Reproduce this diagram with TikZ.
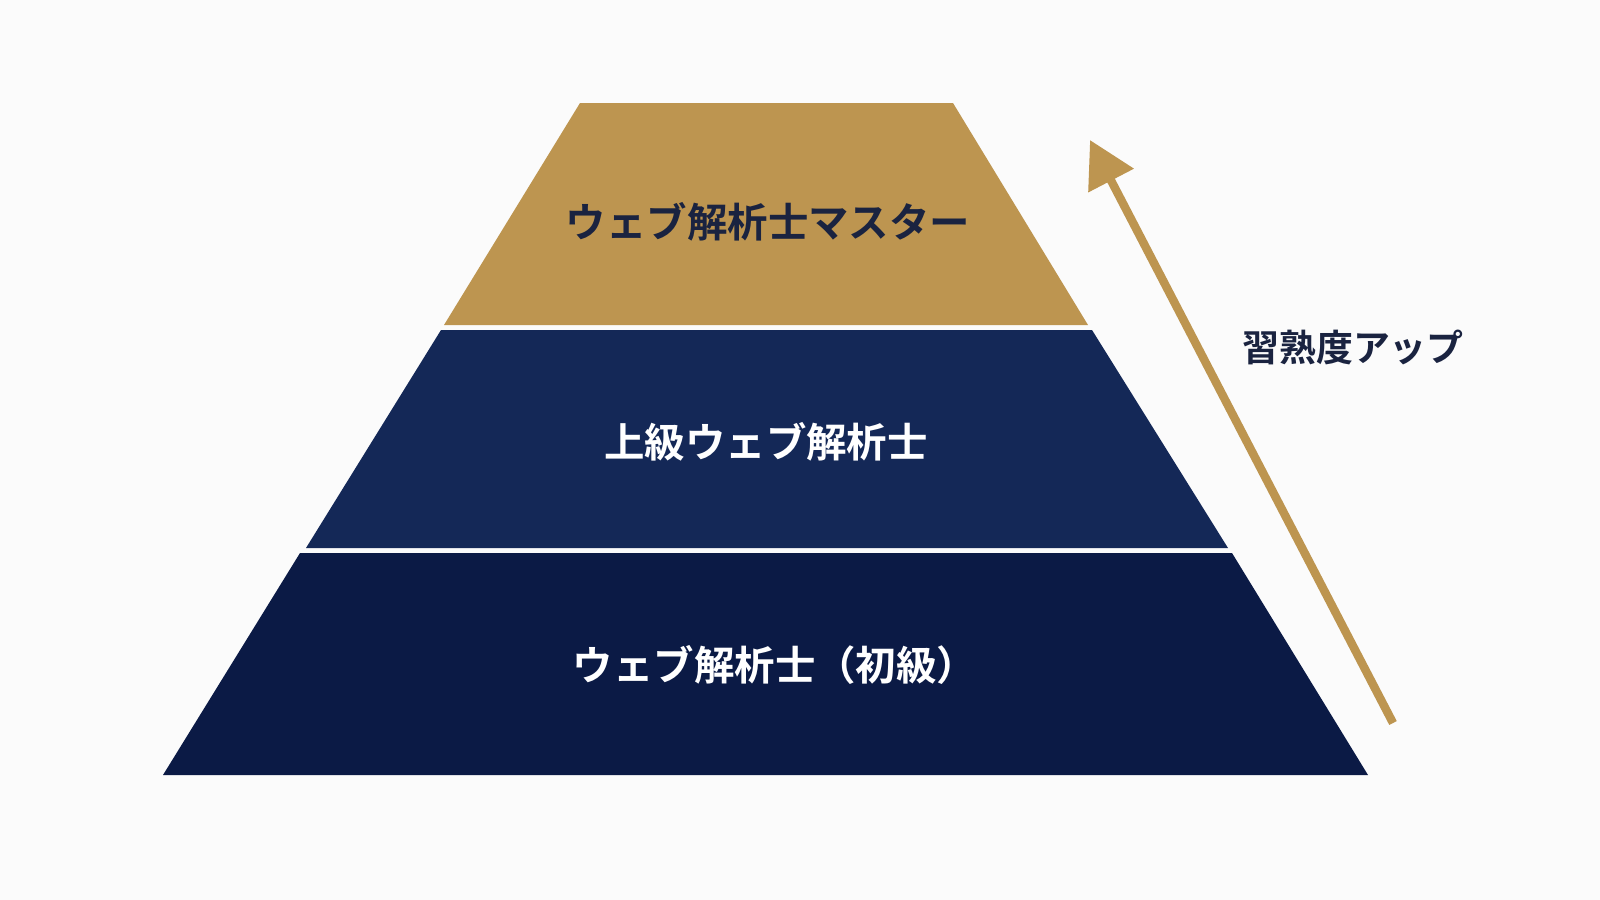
\documentclass[tikz,border=0pt]{standalone}
\usepackage{fontspec}
\usetikzlibrary{arrows.meta}
\newfontfamily\jpfont[BoldFont={Noto Sans CJK JP Bold}]{Noto Sans CJK JP}
\definecolor{gold}{HTML}{BD9550}
\definecolor{navymid}{HTML}{142857}
\definecolor{navylow}{HTML}{0B1A45}
\definecolor{inkblue}{HTML}{1A2340}
\begin{document}
\begin{tikzpicture}[x=0.01cm,y=-0.01cm,
  level/.style={font=\jpfont\bfseries\fontsize{11.5}{13}\selectfont,inner sep=0pt},
  uplabel/.style={font=\jpfont\bfseries\fontsize{10.5}{12}\selectfont,text=inkblue,inner sep=0pt}]
\fill [white!97!gray] (0,0) rectangle (1600,900);
% tiers
\fill [gold] (580,103) -- (953,103) -- (1088,325) -- (444,325) -- cycle;
\fill [navymid] (441,330) -- (1092,330) -- (1228,548) -- (306,548) -- cycle;
\fill [navylow] (300,553) -- (1232,553) -- (1368,775) -- (163,775) -- cycle;
\node [level,text=inkblue] (master) at (768,222) {ウェブ解析士マスター};
\node [level,text=white] (senior) at (766,442) {上級ウェブ解析士};
\node [level,text=white] (basic) at (775,665) {ウェブ解析士（初級）};
% progression arrow
\coordinate (start) at (1393,723);
\coordinate (tip) at (1090,140);
\draw [gold,line width=2.4pt,-{Triangle[length=13pt,width=14pt]}] (start) -- (tip);
\node [uplabel] (skill) at (1353,347) {習熟度アップ};
\end{tikzpicture}
\end{document}
